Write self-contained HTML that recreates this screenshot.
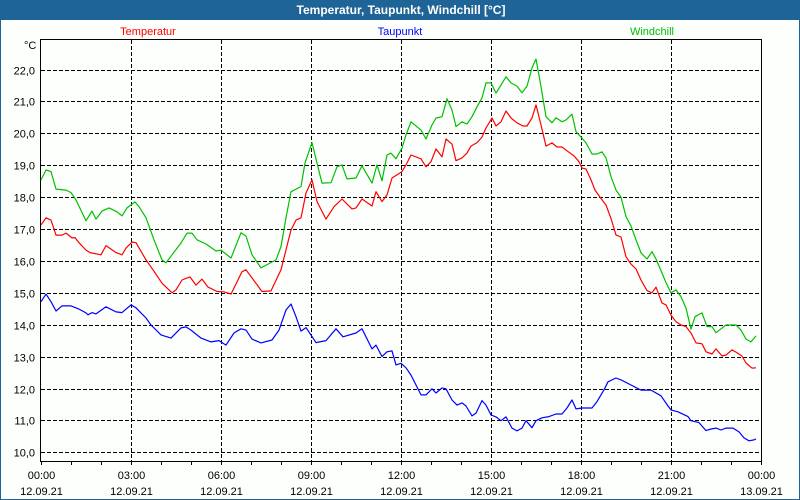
<!DOCTYPE html>
<html><head><meta charset="utf-8"><style>
html,body{margin:0;padding:0;background:#fff}
#wrap{position:relative;width:800px;height:500px;box-sizing:border-box;border:1px solid #1e6496;border-top:none;background:#fdfffd;overflow:hidden}
#title{position:absolute;left:0;top:0;width:800px;height:20px;background:#1e6496;color:#fff;font:bold 12px "Liberation Sans",sans-serif;text-align:center;line-height:21px}
svg{position:absolute;left:-1px;top:0}
text{font-family:"Liberation Sans",sans-serif;font-size:11px}
</style></head><body>
<div id="wrap">
<div id="title">Temperatur, Taupunkt, Windchill [°C]</div>
<svg id="chart" width="800" height="500"></svg>
</div>
<script>
const yTicks=[10,11,12,13,14,15,16,17,18,19,20,21,22];
const xTickLabels=["00:00","03:00","06:00","09:00","12:00","15:00","18:00","21:00","00:00"];
const xDateLabels=["12.09.21","12.09.21","12.09.21","12.09.21","12.09.21","12.09.21","12.09.21","12.09.21","13.09.21"];
const temperatur=[[0,17.13],[10,17.35],[20,17.28],[30,16.81],[42,16.81],[50,16.87],[62,16.72],[68,16.73],[76,16.57],[90,16.34],[98,16.26],[120,16.19],[130,16.48],[150,16.26],[162,16.19],[170,16.4],[182,16.59],[190,16.57],[210,16.03],[224,15.72],[242,15.3],[262,15.0],[270,15.09],[282,15.4],[298,15.5],[310,15.24],[322,15.43],[334,15.18],[352,15.04],[366,15.03],[380,14.96],[402,15.66],[410,15.72],[442,15.04],[460,15.06],[480,15.72],[500,16.97],[510,17.28],[520,17.35],[530,18.13],[542,18.54],[552,17.86],[570,17.31],[586,17.7],[602,17.94],[622,17.63],[630,17.66],[642,17.94],[662,17.72],[670,18.17],[682,17.86],[692,18.07],[702,18.6],[722,18.8],[730,19.01],[740,19.32],[760,19.2],[770,18.95],[780,19.11],[790,19.51],[802,19.26],[810,19.82],[822,19.66],[830,19.14],[842,19.23],[852,19.38],[860,19.6],[872,19.71],[882,19.88],[890,20.17],[902,20.48],[910,20.23],[920,20.36],[930,20.7],[940,20.48],[952,20.33],[964,20.23],[972,20.23],[982,20.48],[990,20.89],[1000,20.26],[1010,19.6],[1022,19.7],[1032,19.57],[1042,19.57],[1052,19.45],[1066,19.29],[1076,19.11],[1082,18.91],[1090,18.88],[1100,18.54],[1108,18.22],[1118,18.0],[1130,17.75],[1140,17.33],[1150,16.81],[1160,16.75],[1170,16.13],[1180,15.9],[1190,15.75],[1200,15.4],[1212,15.07],[1222,15.0],[1230,15.18],[1242,14.68],[1250,14.62],[1260,14.3],[1270,14.09],[1280,13.99],[1290,13.94],[1300,13.74],[1310,13.43],[1322,13.4],[1330,13.15],[1342,13.08],[1350,13.24],[1362,13.02],[1370,13.05],[1382,13.21],[1390,13.14],[1402,13.02],[1410,12.8],[1422,12.64],[1430,12.65]];
const windchill=[[0,18.54],[10,18.85],[20,18.8],[30,18.25],[50,18.22],[60,18.14],[70,17.91],[90,17.26],[102,17.56],[110,17.31],[122,17.56],[136,17.66],[152,17.54],[162,17.41],[172,17.66],[188,17.85],[196,17.7],[210,17.35],[226,16.66],[242,16.03],[250,15.94],[262,16.19],[280,16.56],[292,16.87],[302,16.87],[312,16.66],[330,16.53],[350,16.31],[360,16.34],[380,16.09],[400,16.88],[410,16.78],[422,16.19],[440,15.78],[470,16.03],[480,16.45],[490,17.35],[500,18.17],[520,18.33],[528,19.07],[542,19.71],[552,19.07],[562,18.44],[580,18.45],[592,18.95],[602,19.01],[612,18.57],[630,18.6],[642,18.98],[662,18.44],[672,19.01],[682,18.51],[692,19.32],[700,19.38],[710,19.2],[722,19.54],[730,19.95],[740,20.36],[760,20.1],[770,19.82],[782,20.26],[790,20.48],[802,20.52],[812,21.08],[822,20.73],[830,20.21],[842,20.36],[852,20.29],[862,20.52],[872,20.83],[882,21.11],[890,21.58],[900,21.58],[910,21.26],[920,21.51],[930,21.77],[940,21.58],[952,21.48],[962,21.27],[972,21.48],[982,22.05],[990,22.33],[1000,21.46],[1010,20.52],[1022,20.33],[1030,20.49],[1042,20.36],[1050,20.42],[1062,20.6],[1070,20.05],[1080,19.88],[1090,19.7],[1102,19.35],[1112,19.35],[1122,19.42],[1130,19.23],[1140,18.64],[1150,18.22],[1160,18.0],[1170,17.39],[1180,17.09],[1190,16.66],[1200,16.25],[1212,16.06],[1222,16.29],[1230,16.06],[1242,15.62],[1250,15.32],[1260,15.0],[1270,15.09],[1280,14.88],[1290,14.52],[1300,13.86],[1308,14.25],[1322,14.37],[1332,13.94],[1342,13.94],[1350,13.75],[1370,13.99],[1390,13.99],[1400,13.83],[1410,13.55],[1420,13.46],[1430,13.65]];
const taupunkt=[[0,14.72],[10,14.96],[20,14.72],[30,14.43],[42,14.59],[60,14.59],[76,14.49],[90,14.37],[94,14.31],[102,14.38],[110,14.34],[130,14.56],[150,14.4],[162,14.38],[180,14.62],[190,14.53],[200,14.37],[210,14.21],[220,13.99],[240,13.68],[260,13.58],[280,13.9],[290,13.93],[300,13.83],[320,13.58],[340,13.46],[356,13.5],[370,13.36],[386,13.74],[400,13.87],[410,13.83],[422,13.55],[440,13.43],[462,13.52],[476,13.83],[490,14.46],[500,14.65],[510,14.25],[520,13.8],[530,13.91],[550,13.44],[570,13.5],[590,13.87],[604,13.62],[630,13.74],[642,13.87],[662,13.24],[670,13.36],[682,13.0],[692,13.15],[702,13.18],[710,12.74],[720,12.79],[730,12.65],[740,12.42],[750,12.11],[760,11.8],[770,11.8],[782,11.99],[790,11.86],[802,12.02],[810,11.99],[822,11.64],[832,11.48],[842,11.55],[850,11.45],[862,11.14],[870,11.23],[882,11.62],[890,11.48],[900,11.17],[910,11.11],[920,10.99],[930,11.11],[942,10.76],[952,10.67],[962,10.76],[970,10.99],[982,10.77],[990,10.99],[1002,11.08],[1016,11.12],[1030,11.2],[1042,11.2],[1052,11.39],[1062,11.64],[1070,11.36],[1082,11.39],[1102,11.39],[1112,11.59],[1126,11.96],[1134,12.21],[1150,12.33],[1160,12.27],[1180,12.11],[1200,11.95],[1220,11.95],[1240,11.77],[1254,11.45],[1260,11.33],[1274,11.27],[1294,11.12],[1300,10.99],[1316,10.93],[1330,10.68],[1340,10.73],[1350,10.76],[1360,10.7],[1370,10.76],[1384,10.76],[1396,10.64],[1406,10.45],[1416,10.36],[1426,10.39],[1430,10.42]];

const NS="http://www.w3.org/2000/svg";
const svg=document.getElementById('chart');
const L=41,R=761,T=40,B=461;
function xScale(m){return L+m*(R-L)/1440;}
function yScale(v){return 69.5+(22-v)*31.9;}
function mk(tag,attrs,parent){const e=document.createElementNS(NS,tag);for(const k in attrs)e.setAttribute(k,attrs[k]);(parent||svg).appendChild(e);return e;}

// gridlines
yTicks.forEach(v=>{
  const y=Math.round(yScale(v))+0.5;
  const g=mk('line',{x1:L,x2:R,y1:y,y2:y,stroke:'#000','stroke-dasharray':'4 2'});
  
  
  const t=mk('text',{x:35,y:y+4,'text-anchor':'end',fill:'#000'});
  t.textContent=v.toFixed(1).replace('.',',');
  
  
});
xTickLabels.forEach((lab,i)=>{
  const x=Math.round(xScale(i*180))+0.5;
  if(i>0&&i<8){
    const g=mk('line',{x1:x,x2:x,y1:T,y2:B,stroke:'#000','stroke-dasharray':'4 2'});
    
    
  }
  const t=mk('text',{x:x,y:479,'text-anchor':'middle',fill:'#000'});
  t.textContent=lab;
  
  
  const d=mk('text',{x:x,y:495,'text-anchor':'middle',fill:'#000'});
  d.textContent=xDateLabels[i];
  
  
});
for(let h=0;h<=24;h++){
  const x=Math.round(xScale(h*60))+0.5;
  const tk=mk('line',{x1:x,x2:x,y1:B,y2:B+4,stroke:'#000'});
  
  
}
// plot frame
const fr=mk('rect',{x:L-0.5,y:T-0.5,width:R-L+1,height:B-T+1,fill:'none',stroke:'#000'});


const unit=mk('text',{x:24,y:49,fill:'#000'});
unit.textContent='°C';



function series(data,color,name){
  const p=mk('polyline',{points:data.map(d=>xScale(d[0]).toFixed(1)+','+yScale(d[1]).toFixed(1)).join(' '),fill:'none',stroke:color,'stroke-width':1.2,'stroke-linejoin':'round'});
  
  
}
series(windchill,'#00c000','windchill-line');
series(temperatur,'#ff0000','temperatur-line');
series(taupunkt,'#0000ff','taupunkt-line');

const legend=[['Temperatur','#ff0000',148],['Taupunkt','#0000ff',400],['Windchill','#00c000',652]];
legend.forEach(l=>{
  const t=mk('text',{x:l[2],y:35,'text-anchor':'middle',fill:l[1]});
  t.textContent=l[0];
  
  
});
</script>
</body></html>
